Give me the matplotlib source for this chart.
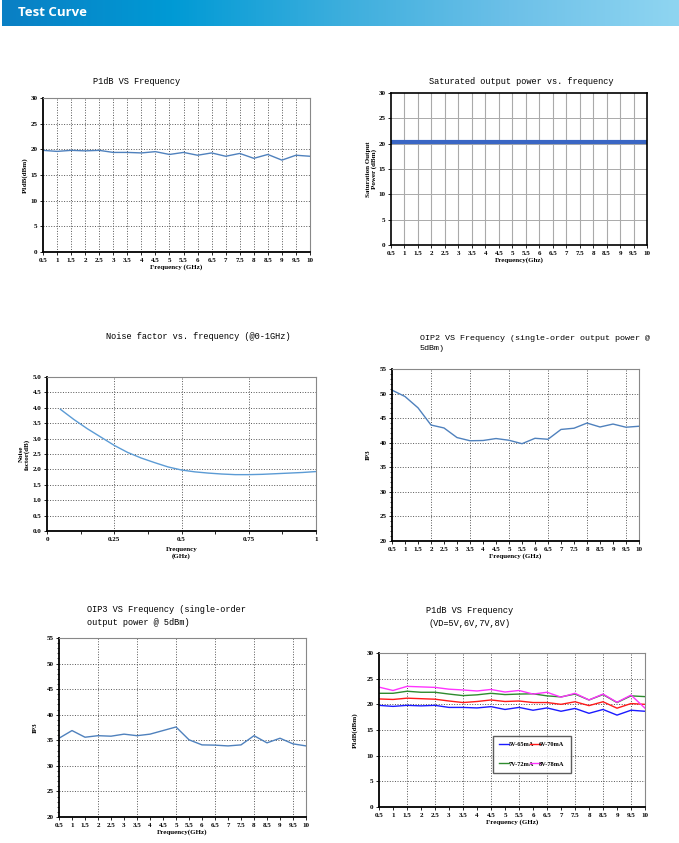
import numpy as np
import matplotlib.pyplot as plt
from matplotlib.colors import LinearSegmentedColormap

W, H = 679, 843

# data
freq = [0.5, 1, 1.5, 2, 2.5, 3, 3.5, 4, 4.5, 5, 5.5, 6, 6.5, 7, 7.5, 8, 8.5, 9, 9.5, 10]
freq_labels = ['0.5', '1', '1.5', '2', '2.5', '3', '3.5', '4', '4.5', '5',
               '5.5', '6', '6.5', '7', '7.5', '8', '8.5', '9', '9.5', '10']

p1db = [19.8, 19.6, 19.8, 19.7, 19.8, 19.4, 19.4, 19.3, 19.55, 19.0,
        19.4, 18.85, 19.3, 18.65, 19.2, 18.25, 19.0, 17.9, 18.85, 18.65]

psat = [20.3] * len(freq)

nf_freq = [0.05, 0.1, 0.15, 0.2, 0.25, 0.3, 0.35, 0.4, 0.45, 0.5,
           0.55, 0.6, 0.65, 0.7, 0.75, 0.8, 0.85, 0.9, 0.95, 1.0]
nf = [3.95, 3.62, 3.32, 3.05, 2.78, 2.55, 2.37, 2.22, 2.08, 1.98,
      1.92, 1.88, 1.85, 1.83, 1.83, 1.84, 1.86, 1.88, 1.9, 1.93]

oip2 = [50.7, 49.4, 47.1, 43.6, 43.0, 41.05, 40.4, 40.45, 40.85, 40.5,
        39.8, 40.9, 40.7, 42.7, 42.95, 44.0, 43.2, 43.8, 43.15, 43.35]

oip3 = [35.4, 36.9, 35.6, 35.9, 35.8, 36.2, 35.9, 36.2, 36.9, 37.6,
        35.1, 34.1, 34.05, 33.9, 34.1, 35.9, 34.5, 35.4, 34.3, 33.9]

p1db_6v = [21.05, 20.95, 21.2, 21.1, 21.0, 20.65, 20.35, 20.55, 20.85, 20.55,
           20.65, 20.35, 20.35, 20.0, 20.5, 19.75, 20.5, 19.25, 20.15, 20.0]
p1db_7v = [22.15, 22.15, 22.55, 22.35, 22.35, 22.0, 21.7, 21.85, 22.15, 21.9,
           22.0, 22.05, 21.65, 21.45, 22.0, 20.85, 21.9, 20.35, 21.65, 21.5]
p1db_8v = [23.35, 22.7, 23.5, 23.4, 23.3, 22.95, 22.8, 22.6, 22.9, 22.4,
           22.7, 22.0, 22.35, 21.4, 22.15, 20.85, 22.0, 20.4, 21.8, 19.25]
vd_labels = ['5V-65mA', '7V-72mA', '6V-70mA', '8V-78mA']

LINE = '#4f81bd'
MONO = 'Liberation Mono'
SERIF = 'Liberation Serif'
TSIZE = 6.2

fig = plt.figure(figsize=(W / 100, H / 100), dpi=100)
fig.patch.set_facecolor('white')


def box(x0, y0, x1, y1):
    return [x0 / W, 1 - y1 / H, (x1 - x0) / W, (y1 - y0) / H]


# header banner
bar = fig.add_axes(box(2, 0, W, 26))
cmap = LinearSegmentedColormap.from_list(
    'hdr', ['#0a7fc4', '#009ad5', '#3caedd', '#6cc0e8', '#8fd5f1'])
bar.imshow(np.linspace(0, 1, 256)[None, :], aspect='auto', cmap=cmap,
           extent=[0, 1, 0, 1])
bar.set_axis_off()
bar.text(0.024, 0.5, 'Test Curve', color='white', fontsize=9.5,
         fontweight='bold', va='center', ha='left', family='Open Sans')


def style(ax, ylim, ystep, grid_style=':', grid_color='#555555'):
    ax.set_ylim(*ylim)
    ax.set_yticks(np.arange(ylim[0], ylim[1] + 0.01, ystep))
    for s in ax.spines.values():
        s.set_linewidth(0.8)
    ax.spines['left'].set_linewidth(1.3)
    ax.spines['bottom'].set_linewidth(1.3)
    ax.spines['top'].set_color('#888888')
    ax.spines['right'].set_color('#888888')
    ax.tick_params(labelsize=5, length=2, width=0.6, pad=2)
    for lab in ax.get_xticklabels() + ax.get_yticklabels():
        lab.set_family(SERIF)
        lab.set_fontweight('bold')
    for yv in np.arange(ylim[0] + ystep, ylim[1], ystep):
        ax.axhline(yv, color=grid_color, lw=0.7, ls=grid_style, zorder=0)


def freq_axis(ax):
    ax.set_xlim(0.5, 10)
    ax.set_xticks(freq)
    ax.set_xticklabels(freq_labels)


def xlab(ax, txt, pad=1):
    ax.set_xlabel(txt, fontsize=5, fontweight='bold', family=SERIF, labelpad=pad)


def ylab(ax, txt, pad=2):
    ax.set_ylabel(txt, fontsize=5, fontweight='bold', family=SERIF,
                  labelpad=pad, linespacing=1.0)


# 1. P1dB vs frequency
ax1 = fig.add_axes(box(43, 98, 310, 252))
ax1.plot(freq, p1db, color=LINE, lw=1.0)
freq_axis(ax1)
style(ax1, (0, 30), 5)
for xv in freq[1:-1]:
    ax1.axvline(xv, color='#555555', lw=0.7, ls=':', zorder=0)
xlab(ax1, 'Frequency (GHz)')
ylab(ax1, 'P1dB(dBm)', pad=2)
fig.text(137 / W, 1 - 82 / H, 'P1dB VS Frequency', family=MONO, fontsize=TSIZE,
         ha='center', va='center')

# 2. saturated output power
ax2 = fig.add_axes(box(391, 93, 647, 245))
ax2.plot(freq, psat, color='#3a66c4', lw=3.0)
freq_axis(ax2)
style(ax2, (0, 30), 5, grid_style='-', grid_color='#aaaaaa')
for s in ax2.spines.values():
    s.set_color('black')
    s.set_linewidth(1.2)
for xv in freq[1:-1]:
    ax2.axvline(xv, color='#aaaaaa', lw=0.8, zorder=0)
xlab(ax2, 'Frequency(Ghz)')
ylab(ax2, 'Saturation Output\nPower (dBm)', pad=1)
fig.text(521 / W, 1 - 82 / H, 'Saturated output power vs. frequency',
         family=MONO, fontsize=TSIZE, ha='center', va='center')

# 3. noise factor
ax3 = fig.add_axes(box(47, 377, 316, 531))
ax3.plot(nf_freq, nf, color='#5b9bd5', lw=1.0)
ax3.set_xlim(0, 1)
ax3.set_xticks([0, 0.25, 0.5, 0.75, 1])
ax3.set_xticklabels(['0', '0.25', '0.5', '0.75', '1'])
ax3.set_xticks([0.125, 0.375, 0.625, 0.875], minor=True)
style(ax3, (0, 5), 0.5)
ax3.tick_params(which='minor', length=2, width=0.6)
for xv in [0.25, 0.5, 0.75]:
    ax3.axvline(xv, color='#555555', lw=0.7, ls=':', zorder=0)
xlab(ax3, 'Frequency\n(GHz)', pad=4)
ylab(ax3, 'Noise\nfactor(dB)', pad=2)
fig.text(198 / W, 1 - 336 / H, 'Noise factor vs. frequency (@0-1GHz)',
         family=MONO, fontsize=TSIZE, ha='center', va='center')

# 4. OIP2
ax4 = fig.add_axes(box(392, 369, 639, 541))
ax4.plot(freq, oip2, color=LINE, lw=1.0)
freq_axis(ax4)
style(ax4, (20, 55), 5)
ax4.set_yticks(np.arange(20, 55.1, 1), minor=True)
ax4.tick_params(which='minor', length=1.2, width=0.5)
for xv in [2, 3.5, 5, 6.5, 8, 9.5]:
    ax4.axvline(xv, color='#555555', lw=0.7, ls=':', zorder=0)
xlab(ax4, 'Frequency (GHz)')
ylab(ax4, 'IP3', pad=6)
fig.text(420 / W, 1 - 343 / H,
         'OIP2 VS Frequency (single-order output power @\n5dBm)',
         family=MONO, fontsize=6.0, ha='left', va='center', linespacing=1.6)

# 5. OIP3
ax5 = fig.add_axes(box(59, 638, 306, 817))
ax5.plot(freq, oip3, color=LINE, lw=1.0)
freq_axis(ax5)
style(ax5, (20, 55), 5)
ax5.set_yticks(np.arange(20, 55.1, 1), minor=True)
ax5.tick_params(which='minor', length=1.2, width=0.5)
for xv in [2, 3.5, 5, 6.5, 8, 9.5]:
    ax5.axvline(xv, color='#555555', lw=0.7, ls=':', zorder=0)
xlab(ax5, 'Frequency(GHz)')
ylab(ax5, 'IP3', pad=6)
fig.text(87 / W, 1 - 616 / H,
         'OIP3 VS Frequency (single-order\noutput power @ 5dBm)',
         family=MONO, fontsize=TSIZE, ha='left', va='center', linespacing=1.6)

# 6. P1dB at several VD
ax6 = fig.add_axes(box(379, 653, 645, 807))
l5, = ax6.plot(freq, p1db, color='#1a1aff', lw=1.0)
l6, = ax6.plot(freq, p1db_6v, color='#ff1a1a', lw=1.0)
l7, = ax6.plot(freq, p1db_7v, color='#2e8b2e', lw=1.0)
l8, = ax6.plot(freq, p1db_8v, color='#ff33ff', lw=1.0)
freq_axis(ax6)
style(ax6, (0, 30), 5)
for xv in [1.5, 2.5, 3.5, 4.5, 5.5, 6.5, 7.5, 8.5, 9.5]:
    ax6.axvline(xv, color='#555555', lw=0.7, ls=':', zorder=0)
xlab(ax6, 'Frequency (GHz)')
ylab(ax6, 'P1dB(dBm)', pad=6)
leg = ax6.legend([l5, l7, l6, l8], vd_labels, ncol=2, loc='lower left',
                 bbox_to_anchor=((490 - 379) / 266, (807 - 776) / 154,
                                 84 / 266, 41 / 154),
                 mode='expand', fontsize=4.5, frameon=True, fancybox=False,
                 handlelength=1.6, handletextpad=-0.1, columnspacing=0.1,
                 labelspacing=2.2, borderpad=1.0,
                 prop={'family': SERIF, 'weight': 'bold', 'size': 4.5})
leg.get_frame().set_edgecolor('#333333')
leg.get_frame().set_linewidth(1.0)
fig.text(470 / W, 1 - 617 / H, 'P1dB VS Frequency\n(VD=5V,6V,7V,8V)',
         family=MONO, fontsize=TSIZE, ha='center', va='center', linespacing=1.6)

fig.savefig('out.png', dpi=100, facecolor='white')
